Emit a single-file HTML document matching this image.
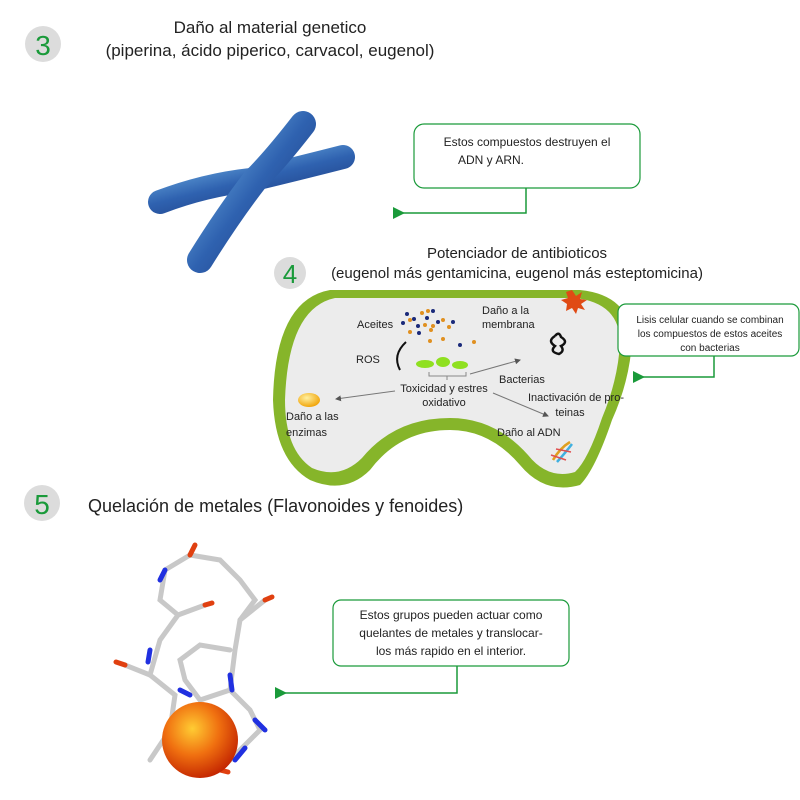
<!DOCTYPE html>
<html><head><meta charset="utf-8"><style>
body{margin:0;background:#fff;}
svg{display:block;font-family:"Liberation Sans",sans-serif;}
</style></head><body>
<svg width="800" height="800" viewBox="0 0 800 800" xmlns="http://www.w3.org/2000/svg">
<defs>
<linearGradient id="chr" x1="0" y1="0" x2="1" y2="1"><stop offset="0" stop-color="#7cc0ee"/><stop offset="0.5" stop-color="#2f62b0"/><stop offset="1" stop-color="#1a3578"/></linearGradient>
<radialGradient id="ball" cx="0.4" cy="0.35" r="0.7"><stop offset="0" stop-color="#ffcc33"/><stop offset="0.5" stop-color="#f07010"/><stop offset="1" stop-color="#c02000"/></radialGradient>
<radialGradient id="enz" cx="0.4" cy="0.35" r="0.7"><stop offset="0" stop-color="#fff0a0"/><stop offset="1" stop-color="#f0a000"/></radialGradient>
<marker id="ga" markerWidth="8" markerHeight="8" refX="2" refY="4" orient="auto"><path d="M8,0 L0,4 L8,8z" fill="#1a9a3a"/></marker>
<marker id="sa" markerWidth="6" markerHeight="6" refX="5" refY="3" orient="auto"><path d="M0,0 L6,3 L0,6z" fill="#555"/></marker>
</defs>
<!-- section 3 -->
<circle cx="43" cy="44" r="18" fill="#dcdcdc"/>
<text x="43" y="55" font-size="28" fill="#1a9a3a" text-anchor="middle">3</text>
<text x="270" y="33" font-size="17" text-anchor="middle" fill="#222">Daño al material genetico</text>
<text x="270" y="56" font-size="17" text-anchor="middle" fill="#222">(piperina, ácido piperico, carvacol, eugenol)</text>
<!-- chromosome -->
<g stroke="url(#chr)" stroke-linecap="round" fill="none">
<path d="M160,202 Q205,185 250,180 Q300,168 343,157" stroke-width="24"/>
<path d="M303,124 Q275,160 255,180 Q228,215 200,260" stroke-width="26"/>
</g>
<!-- box 1 -->
<rect x="414" y="124" width="226" height="64" rx="10" fill="#fff" stroke="#1a9a3a" stroke-width="1.2"/>
<text x="527" y="146" font-size="12" text-anchor="middle" fill="#222">Estos compuestos destruyen el</text>
<text x="491" y="164" font-size="12" text-anchor="middle" fill="#222">ADN y ARN.</text>
<path d="M526,188 V213 H402" stroke="#1a9a3a" stroke-width="1.5" fill="none" marker-end="url(#ga)"/>
<!-- section 4 -->
<circle cx="290" cy="273" r="16" fill="#dcdcdc"/>
<text x="290" y="283" font-size="26" fill="#1a9a3a" text-anchor="middle">4</text>
<text x="517" y="258" font-size="15" text-anchor="middle" fill="#222">Potenciador de antibioticos</text>
<text x="517" y="278" font-size="15" text-anchor="middle" fill="#222">(eugenol más gentamicina, eugenol más esteptomicina)</text>
<!-- bacterium -->
<path d="M330,290 L580,290 Q630,295 632,340 Q630,380 612,420 Q595,470 580,485 Q545,495 520,465 Q490,430 450,430 Q400,430 370,470 Q345,495 310,480 Q275,460 273,400 Q275,300 330,290 Z" fill="#86b52a"/>
<path d="M335,298 L575,298 Q620,303 620,343 Q618,380 602,418 Q588,460 575,472 Q548,480 528,455 Q495,418 450,418 Q395,418 362,458 Q340,480 312,468 Q285,450 285,400 Q288,308 335,298 Z" fill="#ececec"/>
<polygon points="572,290 576,296 582,292 580,299 587,300 581,304 585,310 578,308 576,314 572,308 566,311 567,304 561,300 568,298 566,292" fill="#e04a14"/>
<text x="357" y="328" font-size="11" fill="#222">Aceites</text>
<text x="482" y="314" font-size="11" fill="#222">Daño a la</text>
<text x="482" y="328" font-size="11" fill="#222">membrana</text>
<text x="356" y="363" font-size="11" fill="#222">ROS</text>
<text x="499" y="383" font-size="11" fill="#222">Bacterias</text>
<text x="444" y="392" font-size="11" text-anchor="middle" fill="#222">Toxicidad y estres</text>
<text x="444" y="406" font-size="11" text-anchor="middle" fill="#222">oxidativo</text>
<text x="528" y="401" font-size="11" fill="#222">Inactivación de pro-</text>
<text x="570" y="416" font-size="11" text-anchor="middle" fill="#222">teinas</text>
<text x="286" y="420" font-size="11" fill="#222">Daño a las</text>
<text x="286" y="436" font-size="11" fill="#222">enzimas</text>
<text x="497" y="436" font-size="11" fill="#222">Daño al ADN</text>
<g fill="#1a2a7a"><circle cx="407" cy="314" r="2"/><circle cx="433" cy="311" r="2"/><circle cx="414" cy="319" r="2"/><circle cx="427" cy="318" r="2"/><circle cx="403" cy="323" r="2"/><circle cx="418" cy="326" r="2"/><circle cx="438" cy="322" r="2"/><circle cx="419" cy="333" r="2"/><circle cx="453" cy="322" r="2"/><circle cx="460" cy="345" r="2"/></g>
<g fill="#e09020"><circle cx="422" cy="313" r="2"/><circle cx="428" cy="311" r="2"/><circle cx="410" cy="320" r="2"/><circle cx="425" cy="325" r="2"/><circle cx="433" cy="326" r="2"/><circle cx="443" cy="320" r="2"/><circle cx="431" cy="330" r="2"/><circle cx="410" cy="332" r="2"/><circle cx="449" cy="327" r="2"/><circle cx="430" cy="341" r="2"/><circle cx="443" cy="339" r="2"/><circle cx="474" cy="342" r="2"/></g>
<path d="M406,342 Q392,355 400,370" stroke="#111" stroke-width="2" fill="none"/>
<g fill="#8fe020"><ellipse cx="425" cy="364" rx="9" ry="4"/><ellipse cx="443" cy="362" rx="7" ry="5"/><ellipse cx="460" cy="365" rx="8" ry="4"/></g>
<path d="M429,372 V376 H466 V372 M447,376 V380" stroke="#888" fill="none"/>
<path d="M470,374 L520,360" stroke="#777" marker-end="url(#sa)"/>
<path d="M395,391 L336,399" stroke="#777" marker-end="url(#sa)"/>
<path d="M493,393 L548,416" stroke="#777" marker-end="url(#sa)"/>
<path d="M555,336 q-8,5 0,10 q-6,6 4,8 q6,-3 2,-8 q8,-4 0,-9 q-2,-6 -6,-1" stroke="#111" stroke-width="2.5" fill="none"/>
<ellipse cx="309" cy="400" rx="11" ry="7" fill="url(#enz)"/>
<g stroke-width="2.5" fill="none"><path d="M553,460 Q560,448 570,442" stroke="#e0a020"/><path d="M557,462 Q566,452 572,444" stroke="#40b0e0"/><path d="M551,455 L566,460 M556,449 L571,452" stroke="#e05050" stroke-width="1.5"/></g>
<!-- box 2 -->
<rect x="618" y="304" width="181" height="52" rx="8" fill="#fff" stroke="#1a9a3a" stroke-width="1.2"/>
<text x="710" y="323" font-size="10" text-anchor="middle" fill="#222">Lisis celular cuando se combinan</text>
<text x="710" y="337" font-size="10" text-anchor="middle" fill="#222">los compuestos de estos aceites</text>
<text x="710" y="351" font-size="10" text-anchor="middle" fill="#222">con bacterias</text>
<path d="M714,356 V377 H642" stroke="#1a9a3a" stroke-width="1.5" fill="none" marker-end="url(#ga)"/>
<!-- section 5 -->
<circle cx="42" cy="503" r="18" fill="#dcdcdc"/>
<text x="42" y="514" font-size="28" fill="#1a9a3a" text-anchor="middle">5</text>
<text x="88" y="512" font-size="18" fill="#222">Quelación de metales (Flavonoides y fenoides)</text>
<!-- molecule -->
<g stroke="#c8c8c8" stroke-width="5" fill="none" stroke-linecap="round">
<path d="M190,555 L165,570 L160,600 L178,615 L160,640 L150,675 L175,695 L170,730 L150,760"/>
<path d="M190,555 L220,560 L240,580 L255,600 L240,620 L235,650 L230,690 L200,700 L185,680 L180,660 L200,645 L230,650"/>
<path d="M240,620 L265,600 M178,615 L205,605 M150,675 L125,665 M230,690 L250,710 L260,730 L240,750 L220,770"/>
</g>
<g stroke="#2030e0" stroke-width="5" stroke-linecap="round"><path d="M165,570 L160,580"/><path d="M150,650 L148,662"/><path d="M180,690 L190,695"/><path d="M230,675 L232,690"/><path d="M255,720 L265,730"/><path d="M245,748 L235,760"/></g>
<g stroke="#e04010" stroke-width="5" stroke-linecap="round"><path d="M190,555 L195,545"/><path d="M205,605 L212,603"/><path d="M265,600 L272,597"/><path d="M125,665 L116,662"/><path d="M220,770 L228,772"/></g>
<circle cx="200" cy="740" r="38" fill="url(#ball)"/>
<!-- box 3 -->
<rect x="333" y="600" width="236" height="66" rx="8" fill="#fff" stroke="#1a9a3a" stroke-width="1.2"/>
<text x="451" y="619" font-size="12" text-anchor="middle" fill="#222">Estos grupos pueden actuar como</text>
<text x="451" y="637" font-size="12" text-anchor="middle" fill="#222">quelantes de metales y translocar-</text>
<text x="451" y="655" font-size="12" text-anchor="middle" fill="#222">los más rapido en el interior.</text>
<path d="M457,666 V693 H284" stroke="#1a9a3a" stroke-width="1.5" fill="none" marker-end="url(#ga)"/>
</svg>
</body></html>
